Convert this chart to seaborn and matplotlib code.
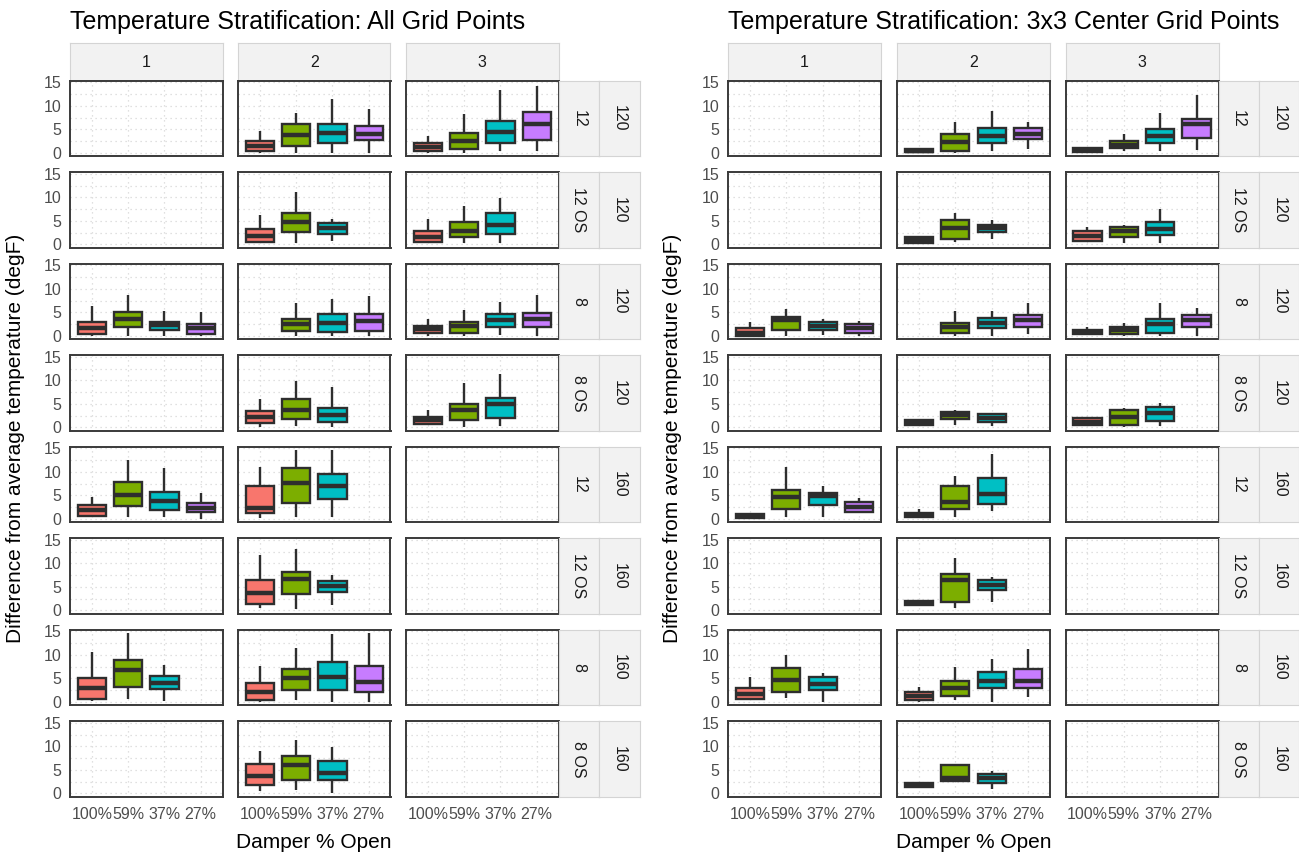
import matplotlib
matplotlib.use("Agg")
import matplotlib.pyplot as plt
import numpy as np
import pandas as pd
import seaborn as sns

# ---------------------------------------------------------------- data
DAMPER = ["100%", "59%", "37%", "27%"]
COLORS = ["#F8766D", "#7CAE00", "#00BFC4", "#C77CFF"]
COL_LABELS = ["1", "2", "3"]
ROW_SIZE = ["12", "12 OS", "8", "8 OS", "12", "12 OS", "8", "8 OS"]
ROW_FLOW = ["120", "120", "120", "120", "160", "160", "160", "160"]

# All grid points: one entry per box (facet row, facet column, damper, five-number summary)
all_row = [0, 0, 0, 0, 0, 0, 0, 0,
           1, 1, 1, 1, 1, 1,
           2, 2, 2, 2, 2, 2, 2, 2, 2, 2, 2,
           3, 3, 3, 3, 3, 3,
           4, 4, 4, 4, 4, 4, 4,
           5, 5, 5,
           6, 6, 6, 6, 6, 6, 6,
           7, 7, 7]
all_col = [2, 2, 2, 2, 3, 3, 3, 3,
           2, 2, 2, 3, 3, 3,
           1, 1, 1, 1, 2, 2, 2, 3, 3, 3, 3,
           2, 2, 2, 3, 3, 3,
           1, 1, 1, 1, 2, 2, 2,
           2, 2, 2,
           1, 1, 1, 2, 2, 2, 2,
           2, 2, 2]
all_damper = ["100%", "59%", "37%", "27%", "100%", "59%", "37%", "27%",
              "100%", "59%", "37%", "100%", "59%", "37%",
              "100%", "59%", "37%", "27%", "59%", "37%", "27%", "100%", "59%", "37%", "27%",
              "100%", "59%", "37%", "100%", "59%", "37%",
              "100%", "59%", "37%", "27%", "100%", "59%", "37%",
              "100%", "59%", "37%",
              "100%", "59%", "37%", "100%", "59%", "37%", "27%",
              "100%", "59%", "37%"]
all_lo = [0.0, 0.0, 0.0, 0.0, 0.0, 0.0, 0.3, 0.5,
          0.2, 0.2, 0.7, 0.2, 0.2, 0.2,
          0.0, 0.0, 0.0, 0.0, 0.0, 0.0, 0.0, 0.0, 0.0, 0.2, 0.0,
          0.0, 0.3, 0.0, 0.6, 0.0, 0.3,
          0.3, 0.3, 0.5, 0.0, 0.1, 0.5, 0.5,
          0.6, 0.3, 1.2,
          0.2, 0.7, 0.2, 0.0, 0.5, 0.0, 0.0,
          0.6, 0.8, 0.0]
all_q1 = [0.4, 1.5, 2.2, 2.7, 0.4, 0.9, 2.2, 2.7,
          0.6, 2.6, 2.2, 0.6, 1.5, 2.2,
          0.35, 1.8, 1.3, 0.35, 1.1, 0.9, 1.1, 0.6, 0.6, 1.8, 1.8,
          1.0, 1.8, 1.2, 0.8, 1.5, 2.1,
          0.6, 2.8, 1.9, 1.5, 1.2, 3.3, 4.2,
          1.4, 3.5, 3.9,
          0.7, 3.2, 2.8, 0.5, 2.5, 2.6, 2.0,
          1.7, 2.9, 2.8]
all_med = [1.5, 3.8, 4.2, 4.0, 1.2, 2.6, 4.5, 6.1,
           1.8, 4.7, 3.4, 1.6, 2.9, 4.1,
           1.6, 3.5, 2.3, 1.6, 2.5, 2.8, 3.2, 1.4, 2.0, 3.3, 3.5,
           2.2, 3.6, 2.6, 1.5, 3.8, 4.9,
           1.8, 5.1, 3.8, 2.4, 2.4, 7.6, 7.0,
           3.7, 6.7, 5.1,
           3.0, 6.7, 4.0, 2.1, 5.0, 5.2, 4.3,
           3.8, 6.0, 4.3]
all_q3 = [2.5, 6.1, 6.2, 5.7, 2.2, 4.2, 6.8, 8.7,
          3.3, 6.6, 4.6, 2.9, 4.8, 6.7,
          2.9, 5.0, 3.0, 2.5, 3.7, 4.6, 4.6, 2.1, 3.0, 4.7, 4.9,
          3.5, 6.1, 4.2, 2.2, 4.9, 6.2,
          3.0, 7.9, 5.7, 3.3, 7.1, 10.9, 9.5,
          6.5, 8.1, 6.2,
          5.1, 9.0, 5.5, 4.0, 6.9, 8.4, 7.6,
          6.3, 7.9, 7.0]
all_hi = [4.7, 8.5, 11.5, 9.3, 3.6, 8.2, 13.4, 14.3,
          6.2, 11.2, 5.3, 5.5, 8.2, 9.8,
          6.4, 8.7, 5.2, 5.0, 6.9, 7.8, 8.4, 3.7, 5.5, 7.2, 8.7,
          6.0, 9.9, 8.6, 3.8, 9.5, 11.3,
          4.7, 12.5, 10.9, 5.5, 11.0, 14.7, 14.7,
          11.8, 13.0, 7.6,
          10.6, 14.6, 7.8, 7.6, 11.5, 14.5, 14.7,
          9.1, 11.3, 9.9]

# 3x3 center grid points
ctr_row = [0, 0, 0, 0, 0, 0, 0, 0,
           1, 1, 1, 1, 1, 1,
           2, 2, 2, 2, 2, 2, 2, 2, 2, 2, 2,
           3, 3, 3, 3, 3, 3,
           4, 4, 4, 4, 4, 4, 4,
           5, 5, 5,
           6, 6, 6, 6, 6, 6, 6,
           7, 7, 7]
ctr_col = [2, 2, 2, 2, 3, 3, 3, 3,
           2, 2, 2, 3, 3, 3,
           1, 1, 1, 1, 2, 2, 2, 3, 3, 3, 3,
           2, 2, 2, 3, 3, 3,
           1, 1, 1, 1, 2, 2, 2,
           2, 2, 2,
           1, 1, 1, 2, 2, 2, 2,
           2, 2, 2]
ctr_damper = ["100%", "59%", "37%", "27%", "100%", "59%", "37%", "27%",
              "100%", "59%", "37%", "100%", "59%", "37%",
              "100%", "59%", "37%", "27%", "59%", "37%", "27%", "100%", "59%", "37%", "27%",
              "100%", "59%", "37%", "100%", "59%", "37%",
              "100%", "59%", "37%", "27%", "100%", "59%", "37%",
              "100%", "59%", "37%",
              "100%", "59%", "37%", "100%", "59%", "37%", "27%",
              "100%", "59%", "37%"]
ctr_lo = [0.0, 0.0, 0.3, 0.8, 0.1, 0.3, 0.4, 0.6,
          0.2, 0.6, 1.1, 0.5, 0.2, 0.35,
          0.0, 0.0, 0.2, 0.0, 0.0, 0.0, 0.35, 0.2, 0.0, 0.0, 0.0,
          0.5, 0.4, 0.3, 0.6, 0.0, 0.3,
          0.1, 0.35, 0.5, 1.2, 0.4, 0.4, 1.6,
          1.1, 0.5, 1.8,
          0.3, 0.8, 0.0, 0.0, 0.4, 0.0, 1.0,
          1.35, 2.4, 0.85]
ctr_q1 = [0.1, 0.5, 2.0, 3.0, 0.2, 1.0, 2.2, 3.1,
          0.35, 1.1, 2.7, 0.7, 1.5, 2.0,
          0.0, 1.2, 1.2, 0.7, 0.7, 1.6, 1.8, 0.5, 0.5, 0.7, 1.8,
          0.6, 1.7, 1.2, 0.6, 0.6, 1.3,
          0.2, 2.1, 3.0, 1.5, 0.5, 2.1, 3.2,
          1.1, 1.7, 4.3,
          0.6, 2.1, 2.6, 0.4, 1.3, 2.9, 2.9,
          1.35, 2.6, 2.3]
ctr_med = [0.5, 2.4, 3.6, 4.0, 0.6, 1.7, 3.6, 6.1,
           0.9, 3.4, 3.5, 1.8, 2.9, 3.3,
           0.7, 3.3, 2.1, 1.6, 1.9, 2.8, 3.3, 0.9, 1.2, 2.5, 3.3,
           1.0, 2.6, 2.1, 1.2, 2.2, 3.0,
           0.6, 4.6, 4.9, 2.6, 0.9, 3.7, 5.3,
           1.5, 6.4, 5.3,
           1.7, 4.7, 3.8, 1.3, 2.9, 4.5, 4.5,
           1.8, 3.3, 3.3]
ctr_q3 = [0.9, 4.0, 5.2, 5.2, 1.1, 2.5, 5.1, 7.3,
          1.6, 5.2, 4.1, 2.8, 3.8, 4.8,
          1.6, 4.1, 3.0, 2.5, 2.8, 3.8, 4.5, 1.3, 1.8, 3.7, 4.5,
          1.5, 3.3, 2.8, 1.9, 3.6, 4.3,
          1.1, 6.2, 5.6, 3.5, 1.3, 6.9, 8.8,
          1.9, 7.7, 6.5,
          2.9, 7.3, 5.2, 2.2, 4.5, 6.3, 7.0,
          2.2, 6.1, 4.2]
ctr_hi = [1.0, 6.6, 8.9, 6.6, 1.2, 4.0, 8.5, 12.4,
          1.8, 6.6, 5.2, 3.8, 4.1, 7.5,
          3.0, 5.7, 3.7, 3.2, 5.3, 5.3, 6.9, 1.9, 2.8, 6.9, 6.0,
          1.5, 3.6, 3.1, 2.1, 4.2, 5.1,
          1.2, 11.1, 6.9, 4.4, 2.1, 9.1, 13.8,
          1.9, 11.1, 7.2,
          5.2, 10.0, 6.1, 3.1, 7.5, 9.1, 11.3,
          2.2, 6.3, 4.7]


def long_frame(rows, cols, dampers, lo, q1, med, q3, hi):
    """Five values per box whose quartiles equal the summary (whiskers span min..max)."""
    recs = []
    for r, c, d, *stats in zip(rows, cols, dampers, lo, q1, med, q3, hi):
        for v in stats:
            recs.append({"row": r, "col": c, "damper": d, "value": v})
    return pd.DataFrame(recs)


df_all = long_frame(all_row, all_col, all_damper, all_lo, all_q1, all_med, all_q3, all_hi)
df_ctr = long_frame(ctr_row, ctr_col, ctr_damper, ctr_lo, ctr_q1, ctr_med, ctr_q3, ctr_hi)

# ---------------------------------------------------------------- style
sns.set_theme(style="white")
plt.rcParams["font.family"] = ["Liberation Sans", "DejaVu Sans"]

W, H = 1299, 855
fig = plt.figure(figsize=(W / 100, H / 100), dpi=100)
fig.patch.set_facecolor("white")


def add_ax(x0, y0, w, h):
    return fig.add_axes([x0 / W, 1 - (y0 + h) / H, w / W, h / H])


PALETTE = dict(zip(DAMPER, COLORS))
ROW_TOP0, ROW_PITCH, ROW_H = 80.8, 91.5, 75.6
STRIP_TOP, STRIP_H = 43.5, 37.3
STRIP_FILL, STRIP_EDGE = "#F2F2F2", "#D4D4D4"
TEXT_GREY, TICK_GREY = "#1A1A1A", "#4D4D4D"
EDGE = "#2E2E2E"


def draw_strip(x0, y0, w, h, label, rotation=0):
    sa = add_ax(x0, y0, w, h)
    sa.set_facecolor(STRIP_FILL)
    sa.set_xticks([])
    sa.set_yticks([])
    for s in sa.spines.values():
        s.set_color(STRIP_EDGE)
        s.set_linewidth(0.8)
    sa.text(0.5, 0.5, label, transform=sa.transAxes, ha="center", va="center",
            rotation=rotation, fontsize=11.5, color=TEXT_GREY)


def draw_half(df, col_x, col_w, strip_x, title, title_x, ylab_x):
    fig.text(title_x / W, 1 - 29 / H, title, fontsize=18, color="black",
             ha="left", va="baseline")
    for ci, cx in enumerate(col_x):
        draw_strip(cx, STRIP_TOP, col_w, STRIP_H, COL_LABELS[ci])
    for ri in range(8):
        y0 = ROW_TOP0 + ri * ROW_PITCH
        for ci, cx in enumerate(col_x):
            ax = add_ax(cx, y0, col_w, ROW_H)
            sub = df[(df["row"] == ri) & (df["col"] == ci + 1)]
            if len(sub):
                sns.boxplot(data=sub, x="damper", y="value", hue="damper",
                            order=DAMPER, hue_order=DAMPER, palette=PALETTE,
                            saturation=1, width=0.78, whis=(0, 100),
                            linewidth=1.7, linecolor=EDGE, showcaps=False,
                            fliersize=0, medianprops={"linewidth": 3.2},
                            legend=False, ax=ax)
            ax.set_facecolor("white")
            ax.set_xlim(-0.6, 3.6)
            ax.set_ylim(-0.75, 15.35)
            ax.set_xticks(range(len(DAMPER)))
            ax.set_yticks([0, 5, 10, 15])
            ax.set_yticks([2.5, 7.5, 12.5], minor=True)
            ax.grid(True, which="both", axis="y", linestyle=(0, (1, 3)),
                    color="#D6D6D6", linewidth=0.9)
            ax.grid(True, which="major", axis="x", linestyle=(0, (1, 3)),
                    color="#D6D6D6", linewidth=0.9)
            ax.set_axisbelow(True)
            ax.set_xlabel("")
            ax.set_ylabel("")
            for s in ax.spines.values():
                s.set_color("#3A3A3A")
                s.set_linewidth(1.4)
            ax.tick_params(which="minor", length=0)
            if ci == 0:
                ax.set_yticklabels(["0", "5", "10", "15"])
                ax.tick_params(axis="y", which="major", length=4, width=1.2,
                               color="#333333", labelsize=11.5,
                               labelcolor=TICK_GREY, pad=2)
            else:
                ax.tick_params(axis="y", which="major", length=0,
                               labelleft=False)
            if ri == 7:
                ax.set_xticklabels(DAMPER)
                ax.tick_params(axis="x", which="major", length=4, width=1.2,
                               color="#333333", labelsize=11.5,
                               labelcolor=TICK_GREY, pad=3)
            else:
                ax.tick_params(axis="x", which="major", length=0,
                               labelbottom=False)
        # two stacked facet labels on the right of every row
        draw_strip(strip_x[0], y0, strip_x[1] - strip_x[0], ROW_H,
                   ROW_SIZE[ri], rotation=-90)
        draw_strip(strip_x[1], y0, strip_x[2] - strip_x[1], ROW_H,
                   ROW_FLOW[ri], rotation=-90)
    mid_x = (col_x[0] + col_x[-1] + col_w) / 2
    fig.text(mid_x / W, 1 - 842 / H, "Damper % Open", fontsize=15,
             ha="center", va="center", color="black")
    mid_y = ROW_TOP0 + (7 * ROW_PITCH + ROW_H) / 2
    fig.text(ylab_x / W, 1 - mid_y / H,
             "Difference from average temperature (degF)", fontsize=15,
             rotation=90, ha="center", va="center", color="black")


draw_half(df_all, [70, 238, 406], 152.5, [558.5, 599, 640],
          "Temperature Stratification: All Grid Points", 70, 16)
draw_half(df_ctr, [728, 897, 1065.5], 153, [1218.5, 1258.5, 1299],
          "Temperature Stratification: 3x3 Center Grid Points", 728, 673)

fig.savefig("out.png", dpi=100, facecolor="white")
